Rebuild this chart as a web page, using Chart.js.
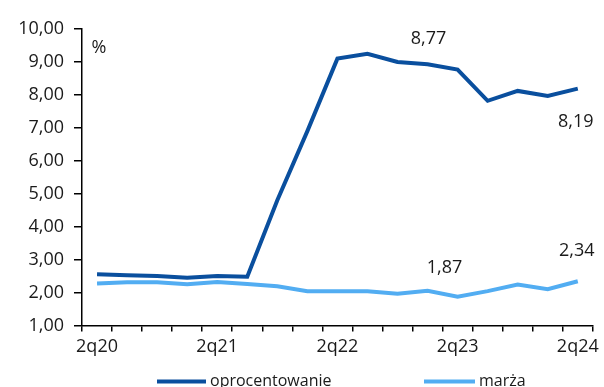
<!DOCTYPE html>
<html>
<head>
<meta charset="utf-8">
<script src="https://cdn.jsdelivr.net/npm/chart.js@4/dist/chart.umd.min.js"></script>
<style>
  html, body { margin: 0; padding: 0; background: #fff; overflow: hidden; }
  #wrap { width: 604px; height: 387px; }
</style>
</head>
<body>
<div id="wrap"><canvas id="c"></canvas></div>
<script>
// Quarters 2q20 .. 2q24
const quarters = ['2q20','3q20','4q20','1q21','2q21','3q21','4q21','1q22','2q22','3q22','4q22','1q23','2q23','3q23','4q23','1q24','2q24'];
// Interest rate (%)
const oprocentowanie = [2.55, 2.52, 2.50, 2.45, 2.50, 2.48, 4.80, 6.90, 9.10, 9.25, 9.00, 8.93, 8.77, 7.82, 8.12, 7.97, 8.19];
// Margin (%)
const marza = [2.27, 2.31, 2.31, 2.25, 2.32, 2.26, 2.19, 2.04, 2.04, 2.04, 1.96, 2.05, 1.87, 2.04, 2.24, 2.10, 2.34];
// Y axis range
const yMin = 1, yMax = 10, yStep = 1;

const DARK = '#0A4F9E';
const LIGHT = '#52ADF2';
const FONT = '"Open Sans", "Liberation Sans", sans-serif';
const TEXT = '#1a1a1a';

const fmt = v => v.toFixed(2).replace('.', ',');

// Value labels: [dataset, index, dx, dy]
const valueLabels = [
  [0, 12, -29, -31],
  [0, 16, -2, 33],
  [1, 12, -13, -29],
  [1, 16, -1, -30]
];

// Legend entries: [dataset, line start, line end, text start] relative to chart area left
const legendItems = [
  [0, 75, 124, 128],
  [1, 342, 393, 397]
];

const annotate = {
  id: 'annotate',
  afterDatasetsDraw(chart) {
    const ctx = chart.ctx;
    const area = chart.chartArea;
    ctx.save();
    ctx.fillStyle = TEXT;
    ctx.font = '18px ' + FONT;
    ctx.textAlign = 'center';
    ctx.textBaseline = 'middle';
    for (const [ds, i, dx, dy] of valueLabels) {
      const pt = chart.getDatasetMeta(ds).data[i];
      const v = chart.data.datasets[ds].data[i];
      ctx.fillText(fmt(v), pt.x + dx, pt.y + dy);
    }
    ctx.fillText('%', area.left + 17, area.top + 19);

    // legend below the axis
    const ly = area.bottom + 56;
    ctx.font = '16px ' + FONT;
    ctx.textAlign = 'left';
    for (const [ds, x0, x1, tx] of legendItems) {
      const d = chart.data.datasets[ds];
      ctx.strokeStyle = d.borderColor;
      ctx.lineWidth = 4;
      ctx.beginPath();
      ctx.moveTo(area.left + x0, ly);
      ctx.lineTo(area.left + x1, ly);
      ctx.stroke();
      ctx.fillStyle = TEXT;
      ctx.fillText(d.label, area.left + tx, ly);
    }
    ctx.restore();
  }
};

new Chart(document.getElementById('c'), {
  type: 'line',
  data: {
    labels: quarters,
    datasets: [
      { label: 'oprocentowanie', data: oprocentowanie, borderColor: DARK, backgroundColor: DARK, borderWidth: 4, pointRadius: 0, tension: 0 },
      { label: 'marża', data: marza, borderColor: LIGHT, backgroundColor: LIGHT, borderWidth: 4, pointRadius: 0, tension: 0 }
    ]
  },
  options: {
    responsive: true,
    maintainAspectRatio: false,
    animation: false,
    layout: { padding: { top: 29, right: 9, left: 0, bottom: 24 } },
    plugins: {
      tooltip: { enabled: false },
      legend: { display: false }
    },
    scales: {
      x: {
        type: 'category',
        offset: true,
        grid: { offset: true, drawOnChartArea: false, drawTicks: true, tickLength: 6, color: '#000', lineWidth: 1.5 },
        border: { display: true, color: '#000', width: 1.5 },
        ticks: {
          autoSkip: false, maxRotation: 0, padding: 5,
          color: TEXT, font: { family: FONT, size: 18 },
          callback(v, i) { return i % 4 === 0 ? this.getLabelForValue(v) : ''; }
        }
      },
      y: {
        min: yMin, max: yMax,
        afterFit(scale) { scale.width = 82; },
        grid: { drawOnChartArea: false, drawTicks: true, tickLength: 8, color: '#000', lineWidth: 1.5 },
        border: { display: true, color: '#000', width: 1.5 },
        ticks: {
          stepSize: yStep, padding: 10,
          color: TEXT, font: { family: FONT, size: 18 },
          callback: v => fmt(v)
        }
      }
    }
  },
  plugins: [annotate]
});
</script>
</body>
</html>
